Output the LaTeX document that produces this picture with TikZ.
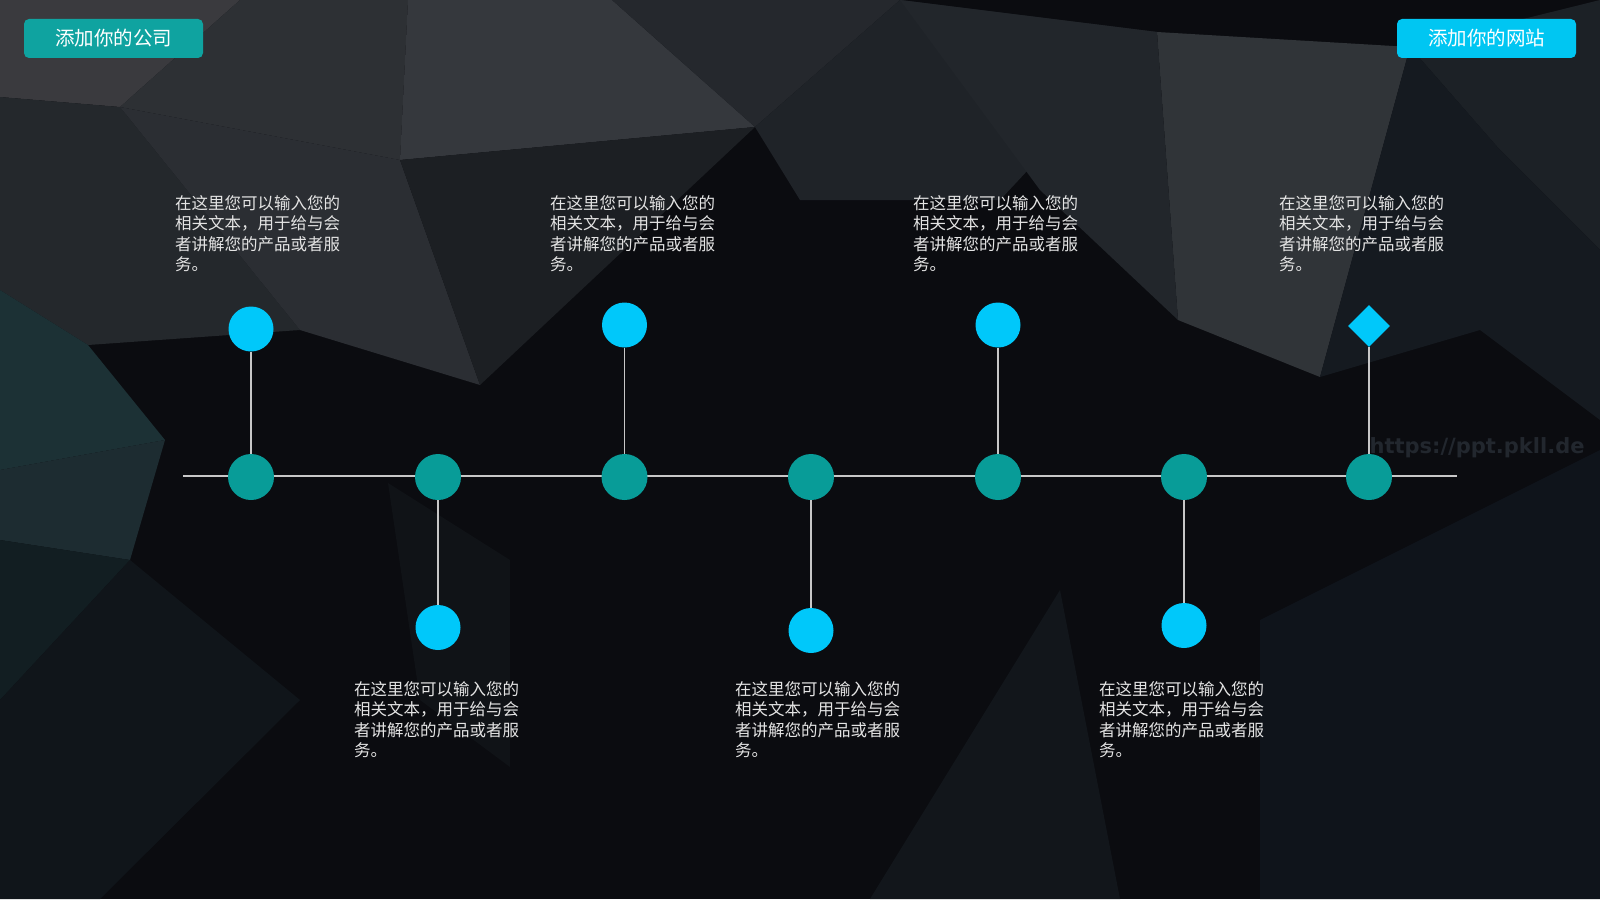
\documentclass[tikz,border=0pt]{standalone}
\usepackage{fontspec}
\newfontfamily\cjk{Noto Sans CJK SC}
\newfontfamily\markfont{DejaVu Sans}
\usetikzlibrary{shapes.geometric}

\definecolor{bgbase}{HTML}{0B0C10}
\definecolor{tealdot}{HTML}{089C98}
\definecolor{cyandot}{HTML}{00C8FA}
\definecolor{tagteal}{HTML}{0FA3A0}
\definecolor{tagcyan}{HTML}{00C6F2}
\definecolor{stemgray}{HTML}{C8C8C8}
\definecolor{textgray}{HTML}{E4E4E4}
\definecolor{markgray}{HTML}{22272E}

\begin{document}
\begin{tikzpicture}[x=1pt,y=-1pt,
    dot/.style={circle,fill=tealdot,minimum size=46pt,inner sep=0pt},
    pin/.style={circle,fill=cyandot,minimum size=45pt,inner sep=0pt},
    stem/.style={draw=stemgray,line width=1.4pt},
    blurb/.style={anchor=north west,inner sep=0pt,align=left,text=textgray,
        font=\cjk\fontsize{16.5}{20.5}\selectfont},
    tag/.style={rounded corners=5pt,minimum width=179pt,minimum height=39pt,
        inner sep=0pt,text=white,font=\cjk\fontsize{19.5}{22}\selectfont}]
    \useasboundingbox (0,0) rectangle (1600,899);
    \fill[bgbase] (0,0) rectangle (1600,899);
    \fill[fill={rgb,255:red,58;green,58;blue,62}] (0,0) -- (240,0) -- (120,107) -- (0,97) -- cycle;
    \fill[fill={rgb,255:red,45;green,48;blue,52}] (240,0) -- (408,0) -- (400,160) -- (120,107) -- cycle;
    \fill[fill={rgb,255:red,36;green,40;blue,44}] (0,97) -- (120,107) -- (300,330) -- (88,345) -- (0,290) -- cycle;
    \fill[fill={rgb,255:red,43;green,46;blue,51}] (120,107) -- (400,160) -- (480,385) -- (300,330) -- cycle;
    \fill[fill={rgb,255:red,53;green,56;blue,61}] (408,0) -- (612,0) -- (755,127) -- (400,160) -- cycle;
    \fill[fill={rgb,255:red,37;green,40;blue,45}] (612,0) -- (900,0) -- (755,127) -- cycle;
    \fill[fill={rgb,255:red,28;green,31;blue,35}] (400,160) -- (755,127) -- (480,385) -- cycle;
    \fill[fill={rgb,255:red,31;green,35;blue,40}] (755,127) -- (900,0) -- (1157,32) -- (1000,200) -- (800,200) -- cycle;
    \fill[fill={rgb,255:red,28;green,49;blue,53}] (0,290) -- (88,345) -- (165,440) -- (0,470) -- cycle;
    \fill[fill={rgb,255:red,29;green,44;blue,49}] (0,470) -- (165,440) -- (130,560) -- (0,540) -- cycle;
    \fill[fill={rgb,255:red,18;green,30;blue,34}] (0,540) -- (130,560) -- (0,700) -- cycle;
    \fill[fill={rgb,255:red,48;green,52;blue,56}] (1157,32) -- (1410,47) -- (1320,377) -- (1178,320) -- cycle;
    \fill[fill={rgb,255:red,34;green,38;blue,43}] (900,0) -- (1157,32) -- (1178,320) -- (1040,190) -- cycle;
    \fill[fill={rgb,255:red,28;green,33;blue,38}] (1410,47) -- (1600,0) -- (1600,250) -- (1500,150) -- cycle;
    \fill[fill={rgb,255:red,21;green,26;blue,32}] (1320,377) -- (1410,47) -- (1500,150) -- (1600,250) -- (1600,420) -- (1480,330) -- cycle;
    \fill[fill={rgb,255:red,16;green,21;blue,26}] (0,700) -- (130,560) -- (300,700) -- (100,899) -- (0,899) -- cycle;
    \fill[fill={rgb,255:red,18;green,22;blue,27}] (870,899) -- (1060,590) -- (1120,899) -- cycle;
    \fill[fill={rgb,255:red,15;green,20;blue,27}] (1260,620) -- (1600,450) -- (1600,899) -- (1260,899) -- cycle;
    \fill[fill={rgb,255:red,16;green,19;blue,23}] (388,483) -- (510,560) -- (510,767) -- (420,700) -- cycle;

    \node[markgray,anchor=west,font=\markfont\bfseries\fontsize{21}{24}\selectfont] (mark) at (1366,448) {https://ppt.pkll.de};

    \node[tag,fill=tagteal] (company) at (113.5,38.5) {添加你的公司};
    \node[tag,fill=tagcyan] (website) at (1486.5,38.5) {添加你的网站};

    \coordinate (lineL) at (183,476);
    \coordinate (lineR) at (1457,476);
    \draw[stem] (lineL) -- (lineR);

    \node[dot] (m1) at (251,477) {};
    \node[dot] (m2) at (438,477) {};
    \node[dot] (m3) at (624.5,477) {};
    \node[dot] (m4) at (811,477) {};
    \node[dot] (m5) at (998,477) {};
    \node[dot] (m6) at (1184,477) {};
    \node[dot] (m7) at (1369,477) {};

    \node[pin] (t1) at (251,329) {};
    \node[pin] (t3) at (624.5,325) {};
    \node[pin] (t5) at (998,325) {};
    \node[diamond,fill=cyandot,minimum width=42pt,minimum height=42pt,inner sep=0pt] (t7) at (1369,326) {};
    \node[pin] (b2) at (438,627.5) {};
    \node[pin] (b4) at (811,630.5) {};
    \node[pin] (b6) at (1184,625.5) {};

    \draw[stem] (t1) -- (m1);
    \draw[stem] (t3) -- (m3);
    \draw[stem] (t5) -- (m5);
    \draw[stem] (t7) -- (m7);
    \draw[stem] (m2) -- (b2);
    \draw[stem] (m4) -- (b4);
    \draw[stem] (m6) -- (b6);

    \node[blurb] (txt1) at (175,195) {在这里您可以输入您的\\相关文本，用于给与会\\者讲解您的产品或者服\\务。};
    \node[blurb] (txt3) at (550,195) {在这里您可以输入您的\\相关文本，用于给与会\\者讲解您的产品或者服\\务。};
    \node[blurb] (txt5) at (913,195) {在这里您可以输入您的\\相关文本，用于给与会\\者讲解您的产品或者服\\务。};
    \node[blurb] (txt7) at (1279,195) {在这里您可以输入您的\\相关文本，用于给与会\\者讲解您的产品或者服\\务。};
    \node[blurb] (txt2) at (354,681) {在这里您可以输入您的\\相关文本，用于给与会\\者讲解您的产品或者服\\务。};
    \node[blurb] (txt4) at (735,681) {在这里您可以输入您的\\相关文本，用于给与会\\者讲解您的产品或者服\\务。};
    \node[blurb] (txt6) at (1099,681) {在这里您可以输入您的\\相关文本，用于给与会\\者讲解您的产品或者服\\务。};
\end{tikzpicture}
\end{document}
